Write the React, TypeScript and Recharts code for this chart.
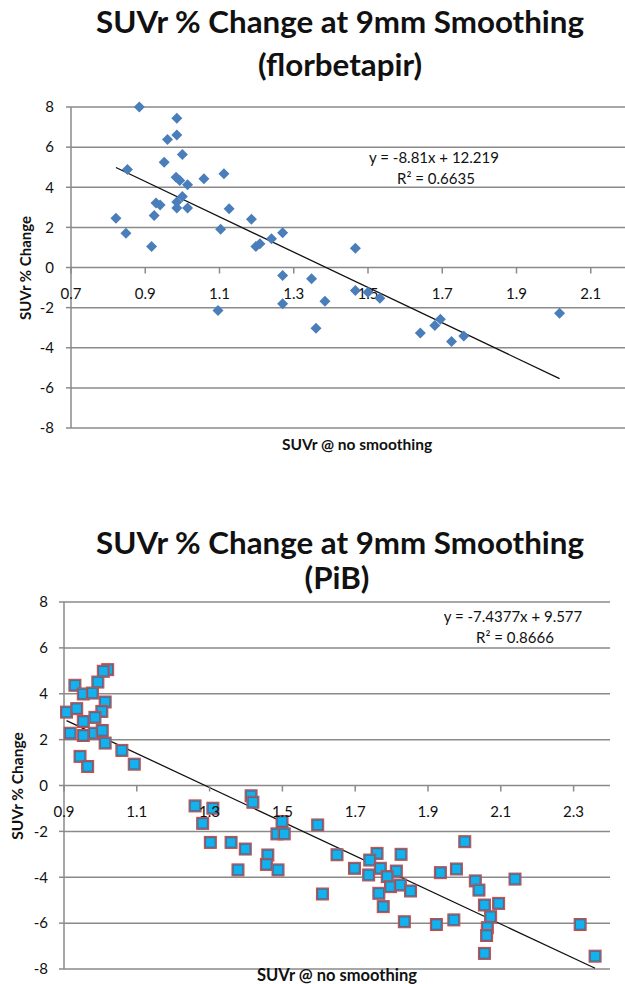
import React from 'react';
import { ScatterChart, Scatter, XAxis, YAxis, CartesianGrid, ReferenceLine } from 'recharts';

// ---------- Data: florbetapir ----------
const florX = [0.884, 0.985, 0.985, 0.96, 1.0, 0.852, 0.951, 0.983, 0.993, 1.014, 1.058, 1.112, 1.0, 0.929, 0.94, 0.985, 0.985, 1.014, 1.126, 0.924, 0.821, 1.186, 0.848, 1.103, 1.27, 1.24, 1.198, 1.209, 0.917, 1.27, 1.348, 1.27, 1.096, 1.36, 1.384, 1.466, 1.466, 1.5, 1.532, 1.641, 1.68, 1.695, 1.725, 1.758, 2.016];
const florY = [8.0, 7.44, 6.61, 6.38, 5.63, 4.89, 5.25, 4.5, 4.34, 4.12, 4.42, 4.67, 3.54, 3.22, 3.12, 3.26, 2.96, 2.96, 2.93, 2.59, 2.46, 2.41, 1.71, 1.91, 1.73, 1.43, 1.05, 1.18, 1.05, -0.4, -0.56, -1.81, -2.14, -3.03, -1.68, 0.96, -1.15, -1.23, -1.53, -3.26, -2.89, -2.58, -3.69, -3.42, -2.28];
const florTrend = { slope: -8.81, intercept: 12.219 };
const florXTicks = [0.7, 0.9, 1.1, 1.3, 1.5, 1.7, 1.9, 2.1];
const florXTickLabels = ['0.7', '0.9', '1.1', '1.3', '1.5', '1.7', '1.9', '2.1'];

// ---------- Data: PiB ----------
const pibX = [1.02, 1.008, 0.93, 0.993, 0.953, 0.978, 1.013, 1.004, 0.907, 0.935, 0.953, 0.985, 0.917, 0.953, 0.983, 1.005, 1.013, 1.059, 0.944, 0.965, 1.093,
  1.414, 1.419, 1.26, 1.309, 1.281, 1.499, 1.597, 1.485, 1.505, 1.302, 1.359, 1.398, 1.46, 1.456, 1.378, 1.488, 1.65, 1.61,
  2.001, 1.76, 1.826, 1.74, 1.698, 1.737, 1.769, 1.813, 1.788, 1.797, 1.824, 1.852, 1.934, 1.978, 2.03, 2.04, 1.765, 1.777, 1.835, 1.923, 1.971, 2.055, 2.094, 2.072, 2.063, 2.061, 2.055, 2.139, 2.318, 2.359];
const pibY = [5.05, 4.98, 4.37, 4.51, 3.99, 4.03, 3.64, 3.23, 3.2, 3.35, 2.79, 2.97, 2.28, 2.18, 2.28, 2.4, 1.85, 1.53, 1.27, 0.83, 0.93,
  -0.45, -0.73, -0.89, -0.99, -1.65, -1.57, -1.72, -2.11, -2.11, -2.48, -2.48, -2.77, -3.03, -3.44, -3.68, -3.68, -3.02, -4.73,
  -2.45, -2.96, -3.0, -3.25, -3.61, -3.9, -3.61, -3.73, -3.97, -4.41, -4.34, -4.6, -3.8, -3.64, -4.16, -4.56, -4.7, -5.28, -5.94, -6.06, -5.86, -5.21, -5.14, -5.72, -6.2, -6.54, -7.32, -4.08, -6.06, -7.44];
const pibTrend = { slope: -7.4377, intercept: 9.577 };
const pibXTicks = [0.9, 1.1, 1.3, 1.5, 1.7, 1.9, 2.1, 2.3];
const pibXTickLabels = ['0.9', '1.1', '1.3', '1.5', '1.7', '1.9', '2.1', '2.3'];

const yTicks = [-8, -6, -4, -2, 0, 2, 4, 6, 8];

const FONT = 'Lato, "Open Sans", sans-serif';
const GRID = '#8a8a8a';

const florData = florX.map((x, i) => ({ x, y: florY[i] }));
const pibData = pibX.map((x, i) => ({ x, y: pibY[i] }));
const florTickData = florXTicks.map((x, i) => ({ x, y: 0, label: florXTickLabels[i] }));
const pibTickData = pibXTicks.map((x, i) => ({ x, y: 0, label: pibXTickLabels[i] }));

const trendSegment = (xs: number[], t: { slope: number; intercept: number }) => {
  const lo = Math.min(...xs);
  const hi = Math.max(...xs);
  return [
    { x: lo, y: t.slope * lo + t.intercept },
    { x: hi, y: t.slope * hi + t.intercept },
  ];
};

const Diamond = (p: any) => {
  const { cx, cy } = p;
  const r = 5.5;
  return <path d={`M${cx},${cy - r}L${cx + r},${cy}L${cx},${cy + r}L${cx - r},${cy}Z`} fill="#4A7EBB" />;
};

const Square = (p: any) => {
  const { cx, cy } = p;
  const h = 6;
  return (
    <g>
      <rect x={cx - h} y={cy - h} width={2 * h} height={2 * h} fill="#12B2EE" stroke="#D9433C" strokeWidth={1} />
      <rect x={cx - h + 1.2} y={cy - h + 1.2} width={2 * h - 2.4} height={2 * h - 2.4} fill="none" stroke="#5F6684" strokeWidth={1.2} />
    </g>
  );
};

const AxisTick = (p: any) => {
  const { cx, cy, payload } = p;
  return (
    <g>
      <line x1={cx} y1={cy} x2={cx} y2={cy + 6} stroke={GRID} strokeWidth={1.5} />
      <text x={cx} y={cy + 31} textAnchor="middle" fontSize={15} fontFamily={FONT} fill="#111">
        {payload.label}
      </text>
    </g>
  );
};

const Txt = ({ x, y, size, bold, children, rotate }: any) => (
  <div
    style={{
      position: 'absolute',
      left: x,
      top: y,
      transform: `translate(-50%, -50%)${rotate ? ' rotate(-90deg)' : ''}`,
      fontFamily: FONT,
      fontSize: size,
      fontWeight: bold ? 700 : 400,
      lineHeight: 1,
      whiteSpace: 'nowrap',
      color: '#111',
    }}
  >
    {children}
  </div>
);

export default function App() {
  return (
    <div style={{ position: 'absolute', left: 0, top: 0, width: 625, height: 984, overflow: 'hidden', background: '#fff' }}>
      {/* Chart 1 */}
      <div style={{ position: 'absolute', left: 0, top: 0 }}>
        <ScatterChart width={680} height={460} margin={{ top: 107, right: 15, bottom: 32, left: 0 }}>
          <CartesianGrid vertical={false} stroke={GRID} strokeWidth={1.5} />
          <XAxis type="number" dataKey="x" domain={[0.7, 2.3]} hide />
          <YAxis
            type="number"
            dataKey="y"
            domain={[-8, 8]}
            ticks={yTicks}
            width={71}
            tickSize={5}
            tickMargin={12}
            axisLine={{ stroke: GRID, strokeWidth: 1.5 }}
            tickLine={{ stroke: GRID, strokeWidth: 1.5 }}
            tick={{ fontSize: 15, fontFamily: FONT, fill: '#111' }}
          />
          <Scatter data={florTickData} shape={AxisTick} isAnimationActive={false} />
          <Scatter data={florData} shape={Diamond} isAnimationActive={false} />
          <ReferenceLine segment={trendSegment(florX, florTrend)} stroke="#111" strokeWidth={1.3} ifOverflow="visible" />
        </ScatterChart>
      </div>
      <Txt x={340} y={22} size={31.3} bold>SUVr % Change at 9mm Smoothing</Txt>
      <Txt x={340} y={65} size={31.3} bold>(florbetapir)</Txt>
      <Txt x={434} y={157} size={15}>y = -8.81x + 12.219</Txt>
      <Txt x={436} y={178} size={15}>R² = 0.6635</Txt>
      <Txt x={357} y={445} size={15.5} bold>SUVr @ no smoothing</Txt>
      <Txt x={25} y={268} size={15} bold rotate>SUVr % Change</Txt>

      {/* Chart 2 */}
      <div style={{ position: 'absolute', left: 0, top: 480 }}>
        <ScatterChart width={625} height={504} margin={{ top: 122, right: 15, bottom: 15, left: 0 }}>
          <CartesianGrid vertical={false} stroke={GRID} strokeWidth={1.5} />
          <XAxis type="number" dataKey="x" domain={[0.9, 2.4]} hide />
          <YAxis
            type="number"
            dataKey="y"
            domain={[-8, 8]}
            ticks={yTicks}
            width={64}
            tickSize={5}
            tickMargin={11}
            axisLine={{ stroke: GRID, strokeWidth: 1.5 }}
            tickLine={{ stroke: GRID, strokeWidth: 1.5 }}
            tick={{ fontSize: 15, fontFamily: FONT, fill: '#111' }}
          />
          <Scatter data={pibData} shape={Square} isAnimationActive={false} />
          <Scatter data={pibTickData} shape={AxisTick} isAnimationActive={false} />
          <ReferenceLine segment={trendSegment(pibX, pibTrend)} stroke="#111" strokeWidth={1.3} ifOverflow="visible" />
        </ScatterChart>
      </div>
      <Txt x={340} y={543} size={31.3} bold>SUVr % Change at 9mm Smoothing</Txt>
      <Txt x={337} y={578} size={31.3} bold>(PiB)</Txt>
      <Txt x={513} y={616} size={15}>y = -7.4377x + 9.577</Txt>
      <Txt x={515} y={637} size={15}>R² = 0.8666</Txt>
      <Txt x={337} y={975} size={16.5} bold>SUVr @ no smoothing</Txt>
      <Txt x={18} y={786} size={15.5} bold rotate>SUVr % Change</Txt>
    </div>
  );
}
